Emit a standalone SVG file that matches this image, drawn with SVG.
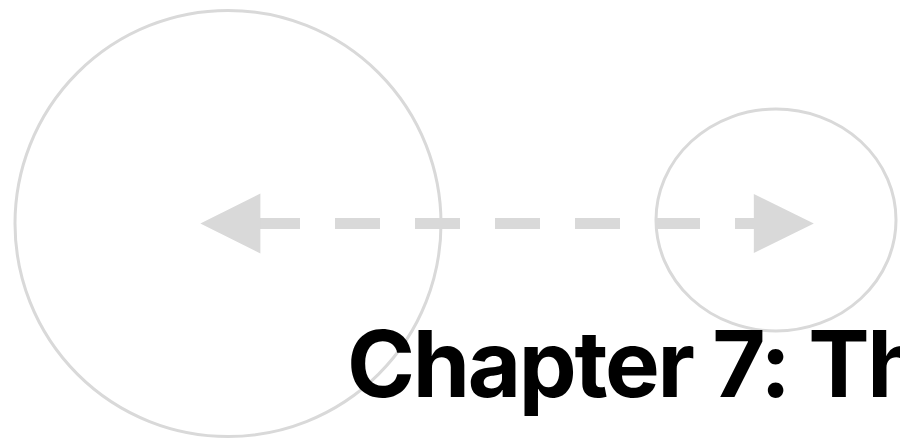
<svg xmlns="http://www.w3.org/2000/svg" width="900" height="446" viewBox="0 0 900 446">
  <style>
    .ring { fill: none; stroke: #d9d9d9; stroke-width: 3; }
    .link { fill: none; stroke: #d9d9d9; stroke-width: 11; stroke-dasharray: 45 35; }
    .head { fill: #d9d9d9; stroke: none; }
    .title { font-family: Inter, "Liberation Sans", sans-serif; font-weight: 700; font-size: 92px; letter-spacing: -2.3px; fill: #000000; }
  </style>
  <defs>
    <marker id="arrowEnd" markerUnits="userSpaceOnUse" markerWidth="60" markerHeight="60" viewBox="0 0 57 56" refX="3" refY="28" orient="auto" overflow="visible">
      <path class="head" d="M0,0 L57,28 L0,56 Z"/>
    </marker>
    <marker id="arrowStart" markerUnits="userSpaceOnUse" markerWidth="60" markerHeight="60" viewBox="0 0 56 56" refX="5" refY="28" orient="auto-start-reverse" overflow="visible">
      <path class="head" d="M0,0 L56,28 L0,56 Z"/>
    </marker>
  </defs>
  <g id="node-large">
    <circle class="ring" cx="228" cy="223.5" r="213"/>
  </g>
  <g id="node-small">
    <ellipse class="ring" cx="776" cy="220" rx="120" ry="111"/>
  </g>
  <g id="connectors">
    <line class="link" x1="255" y1="223.5" x2="757" y2="223.5" marker-start="url(#arrowStart)" marker-end="url(#arrowEnd)"/>
  </g>
  <g id="title">
    <text class="title" x="347" y="397">Chapter 7: Th</text>
  </g>
</svg>
